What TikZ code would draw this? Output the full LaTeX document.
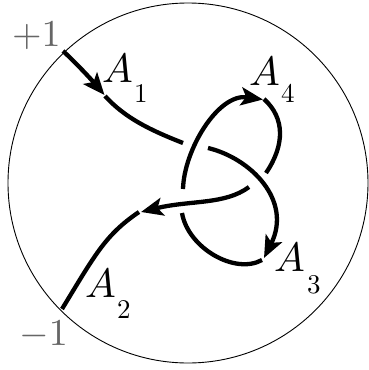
\documentclass[tikz,border=0pt]{standalone}
\usepackage{graphicx}
\usetikzlibrary{arrows.meta}
\newcommand{\bigA}{\scalebox{4.1}{$A$}}
\newcommand{\smallnum}[1]{\scalebox{2.7}{$#1$}}
\newcommand{\signnum}[1]{\scalebox{3.8}{$#1$}}
\tikzset{
  strand/.style={line width=4.3pt,black},
  tip/.style={strand,-{Stealth[length=22pt,width=18pt,inset=5pt]}},
  lab/.style={inner sep=0pt,anchor=base west},
  sign/.style={inner sep=0pt,anchor=base west,text=black!60}
}
\begin{document}
\begin{tikzpicture}[x=1pt,y=-1pt]
\useasboundingbox (0,0) rectangle (369,370);
\draw[line width=0.9pt] (188,183) circle[radius=180];
\coordinate (p) at (63,51);
\coordinate (m) at (62,309);
% A1
\draw[tip] (p) .. controls (75,62) and (90,78) .. (104.5,95);
\draw[strand] (105,96) .. controls (125,118) and (150,130) .. (183,143);
% left arc to A4
\draw[tip] (183,189) .. controls (184,150) and (218,93) .. (263,99.5);
\draw[strand] (264,99) .. controls (285,118) and (285,145) .. (266,173);
% strand to A3
\draw[tip] (208,148) .. controls (250,158) and (293,200) .. (264,258);
\draw[strand] (262,260) .. controls (235,275) and (188,248) .. (182,213);
% strand to A2
\draw[tip] (249,187) .. controls (225,205) and (190,200) .. (141,212);
\draw[strand] (139,212) .. controls (105,235) and (95,255) .. (m);
\node[lab] (a1) at (102,82) {\bigA};
\node[lab] (s1) at (134,102) {\smallnum{1}};
\node[lab] (a2) at (85,297) {\bigA};
\node[lab] (s2) at (117,318) {\smallnum{2}};
\node[lab] (a3) at (274,271) {\bigA};
\node[lab] (s3) at (307,293) {\smallnum{3}};
\node[lab] (a4) at (249,85) {\bigA};
\node[lab] (s4) at (281,102) {\smallnum{4}};
\node[sign] (plus) at (12,46) {\signnum{+1}};
\node[sign] (minus) at (19,345) {\signnum{-1}};
\end{tikzpicture}
\end{document}
